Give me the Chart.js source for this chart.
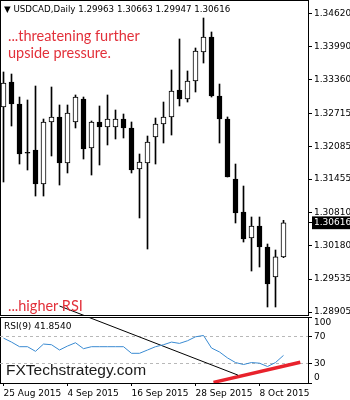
<!DOCTYPE html>
<html>
<head>
<meta charset="utf-8">
<script src="https://cdn.jsdelivr.net/npm/chart.js@4.4.1/dist/chart.umd.min.js"></script>
<style>
  body { margin: 0; background: #fff; }
  #wrap { position: relative; width: 350px; height: 400px; overflow: hidden; font-family: "DejaVu Sans", sans-serif; }
  .pane { position: absolute; left: 0; width: 309px; border: 1px solid #000; box-sizing: border-box; }
  canvas { position: absolute; left: 0; }
  .txt { position: absolute; white-space: nowrap; }
  .red { color: #e2303a; font-family: Lato, sans-serif; font-size: 14.5px; line-height: 17px; }
</style>
</head>
<body>
<div id="wrap">
  <div class="pane" style="top:0; height:316px;"></div>
  <div class="pane" style="top:317px; height:67px;"></div>
  <canvas id="main" width="350" height="318" style="top:0"></canvas>
  <canvas id="rsi" width="350" height="83" style="top:317px"></canvas>
  <div id="hdr" class="txt" style="left:4px; top:4px; font-size:8.7px;"></div>
  <div class="txt red" style="left:8px; top:27px;">...threatening further<br>upside pressure.</div>
  <div class="txt red" style="left:8px; top:297px;">...higher RSI</div>
  <div id="rsiLbl" class="txt" style="left:4px; top:321px; font-size:9px;"></div>
  <div class="txt" style="left:6px; top:361px; font-family:'Liberation Sans', sans-serif; font-size:15.5px; color:#1a1a1a;">FXTechstrategy.com</div>
</div>
<script>
// daily bars, USDCAD
const dates = ['25 Aug 2015', '26 Aug 2015', '27 Aug 2015', '28 Aug 2015', '31 Aug 2015',
  '1 Sep 2015', '2 Sep 2015', '3 Sep 2015', '4 Sep 2015', '7 Sep 2015', '8 Sep 2015',
  '9 Sep 2015', '10 Sep 2015', '11 Sep 2015', '14 Sep 2015', '15 Sep 2015', '16 Sep 2015',
  '17 Sep 2015', '18 Sep 2015', '21 Sep 2015', '22 Sep 2015', '23 Sep 2015', '24 Sep 2015',
  '25 Sep 2015', '28 Sep 2015', '29 Sep 2015', '30 Sep 2015', '1 Oct 2015', '2 Oct 2015',
  '5 Oct 2015', '6 Oct 2015', '7 Oct 2015', '8 Oct 2015', '9 Oct 2015', '12 Oct 2015', '13 Oct 2015'];
const opens = [1.32836, 1.33316, 1.32894, 1.31958, 1.32012, 1.31360, 1.32549, 1.32645, 1.31762,
  1.32549, 1.32990, 1.32050, 1.32549, 1.32453, 1.32453, 1.32606, 1.32434, 1.31647, 1.31762,
  1.32261, 1.32510, 1.32645, 1.33162, 1.32990, 1.33335, 1.33891, 1.34179, 1.33047, 1.32606,
  1.31455, 1.30823, 1.30324, 1.30554, 1.30151, 1.29576, 1.29963];
const highs = [1.33508, 1.33469, 1.33028, 1.32971, 1.33239, 1.32606, 1.33220, 1.32875, 1.32875,
  1.33067, 1.33028, 1.32568, 1.32856, 1.33067, 1.32779, 1.32702, 1.32549, 1.31935, 1.32280,
  1.32625, 1.32932, 1.33546, 1.34141, 1.33527, 1.33968, 1.34543, 1.34275, 1.33277, 1.32645,
  1.31743, 1.31321, 1.30727, 1.30727, 1.30209, 1.30094, 1.30663];
const lows = [1.31398, 1.32472, 1.31743, 1.31628, 1.31129, 1.31129, 1.31897, 1.31340, 1.31571,
  1.32434, 1.31839, 1.31532, 1.31724, 1.32108, 1.32223, 1.32242, 1.31571, 1.30708, 1.30113,
  1.31743, 1.32146, 1.32299, 1.32856, 1.32932, 1.33124, 1.33680, 1.33028, 1.32146, 1.31494,
  1.30612, 1.30247, 1.29691, 1.29768, 1.29001, 1.29001, 1.29947];
const closes = [1.33297, 1.32894, 1.31935, 1.31950, 1.31360, 1.32549, 1.32645, 1.31762, 1.32721,
  1.33028, 1.32031, 1.32549, 1.32453, 1.32606, 1.32606, 1.32434, 1.31628, 1.31782, 1.32165,
  1.32510, 1.32645, 1.33143, 1.32990, 1.33335, 1.33910, 1.34179, 1.33047, 1.32606, 1.31494,
  1.30803, 1.30305, 1.30554, 1.30151, 1.29442, 1.29963, 1.30616];
const rsi = [68, 62, 55, 55, 48, 59, 58, 50, 56, 61, 52, 55, 55, 55, 55, 55, 45, 45, 50, 55,
  58, 62, 60, 64, 70, 72, 53, 47, 38, 31, 28, 31, 30, 25, 31, 41.854];

const priceTicks = [1.34620, 1.33990, 1.33360, 1.32715, 1.32085, 1.31455, 1.30810, 1.30180, 1.29535, 1.28905];
const rsiTicks = [100, 70, 30, 0];
const rsiLevels = [70, 30];
const dateTickIdx = [0, 8, 16, 24, 32];

// hand drawn trend lines (bar index, value)
const trendPrice = [{x: 7, y: 1.2902}, {x: 12, y: 1.28725}];
const trendRsiBlack = [{x: 8, y: 112}, {x: 29.3, y: 12}];
const trendRsiRed = [{x: 26.25, y: 1}, {x: 37.1, y: 31.5}];

const last = closes.length - 1;
const lastClose = closes[last];
document.getElementById('hdr').textContent = '\u25BC USDCAD,Daily ' +
  [opens[last], highs[last], lows[last], closes[last]].map(v => v.toFixed(5)).join(' ');
document.getElementById('rsiLbl').textContent = 'RSI(9) ' + rsi[last].toFixed(4);

Chart.defaults.font.family = 'DejaVu Sans';
Chart.defaults.font.size = 9;
Chart.defaults.color = '#000';

const xMin = -0.4375, xMax = 38.0625;
const idx = dates.map((d, i) => i);

new Chart(document.getElementById('main'), {
  type: 'bar',
  data: {
    datasets: [
      {
        order: 0, grouped: false, barThickness: 5, minBarLength: 1,
        borderWidth: 1, borderColor: '#000', borderSkipped: false,
        backgroundColor: c => closes[c.dataIndex] >= opens[c.dataIndex] ? '#fff' : '#000',
        data: idx.map(i => ({x: i, y: [opens[i], closes[i]]}))
      },
      {
        order: 1, grouped: false, barThickness: 1, borderWidth: 0, backgroundColor: '#000',
        data: idx.map(i => ({x: i, y: [lows[i], highs[i]]}))
      },
      {
        type: 'line', order: 2, data: trendPrice, borderColor: '#000', borderWidth: 1, pointRadius: 0
      }
    ]
  },
  options: {
    responsive: false, animation: false, events: [],
    layout: {padding: {top: 1, bottom: 3, left: 0, right: 0}},
    plugins: {legend: {display: false}, tooltip: {enabled: false}},
    scales: {
      x: {type: 'linear', min: xMin, max: xMax, offset: false, display: false},
      y: {
        position: 'right', min: 1.288475, max: 1.348693, bounds: 'data',
        afterBuildTicks: s => { s.ticks = priceTicks.concat([lastClose]).map(v => ({value: v})); },
        afterFit: s => { s.width = 42; s.paddingTop = 0; s.paddingBottom = 0; },
        border: {display: false},
        grid: {drawOnChartArea: false, tickLength: 4, color: '#000'},
        ticks: {
          padding: 2, autoSkip: false,
          callback: v => v.toFixed(5),
          color: c => c.tick.value === lastClose ? '#fff' : '#000',
          showLabelBackdrop: c => c.tick.value === lastClose,
          backdropColor: '#000',
          backdropPadding: {top: 1, bottom: 1, left: 2, right: 8}
        }
      }
    }
  }
});

new Chart(document.getElementById('rsi'), {
  type: 'line',
  data: {
    datasets: [
      {data: idx.map(i => ({x: i, y: rsi[i]})), borderColor: '#3a8bd2', borderWidth: 1, pointRadius: 0},
      {data: trendRsiBlack, borderColor: '#000', borderWidth: 1, pointRadius: 0},
      {data: trendRsiRed, borderColor: '#e8222c', borderWidth: 3.5, pointRadius: 0}
    ]
  },
  options: {
    responsive: false, animation: false, events: [],
    layout: {padding: 0},
    plugins: {legend: {display: false}, tooltip: {enabled: false}},
    scales: {
      x: {
        type: 'linear', min: xMin, max: xMax, offset: false,
        afterBuildTicks: s => { s.ticks = dateTickIdx.map(v => ({value: v})); },
        afterFit: s => { s.height = 17; s.paddingLeft = 0; s.paddingRight = 0; },
        border: {display: false},
        grid: {drawOnChartArea: false, tickLength: 3, color: '#000'},
        ticks: {align: 'start', autoSkip: false, maxRotation: 0, padding: 2, callback: v => dates[v]}
      },
      y: {
        position: 'right', min: 0, max: 100, bounds: 'data',
        afterBuildTicks: s => { s.ticks = rsiTicks.map(v => ({value: v})); },
        afterFit: s => { s.width = 42; s.paddingTop = 0; s.paddingBottom = 0; },
        border: {display: false, dash: [3, 3]},
        grid: {
          color: c => rsiLevels.includes(c.tick.value) ? '#b8b8b8' : 'rgba(0,0,0,0)',
          tickColor: '#000', tickLength: 4
        },
        ticks: {
          padding: 2, autoSkip: false,
          // keep the end labels inside the pane
          callback: v => v === 100 ? ['', '100'] : v === 0 ? ['0', ''] : String(v)
        }
      }
    }
  }
});
</script>
</body>
</html>
